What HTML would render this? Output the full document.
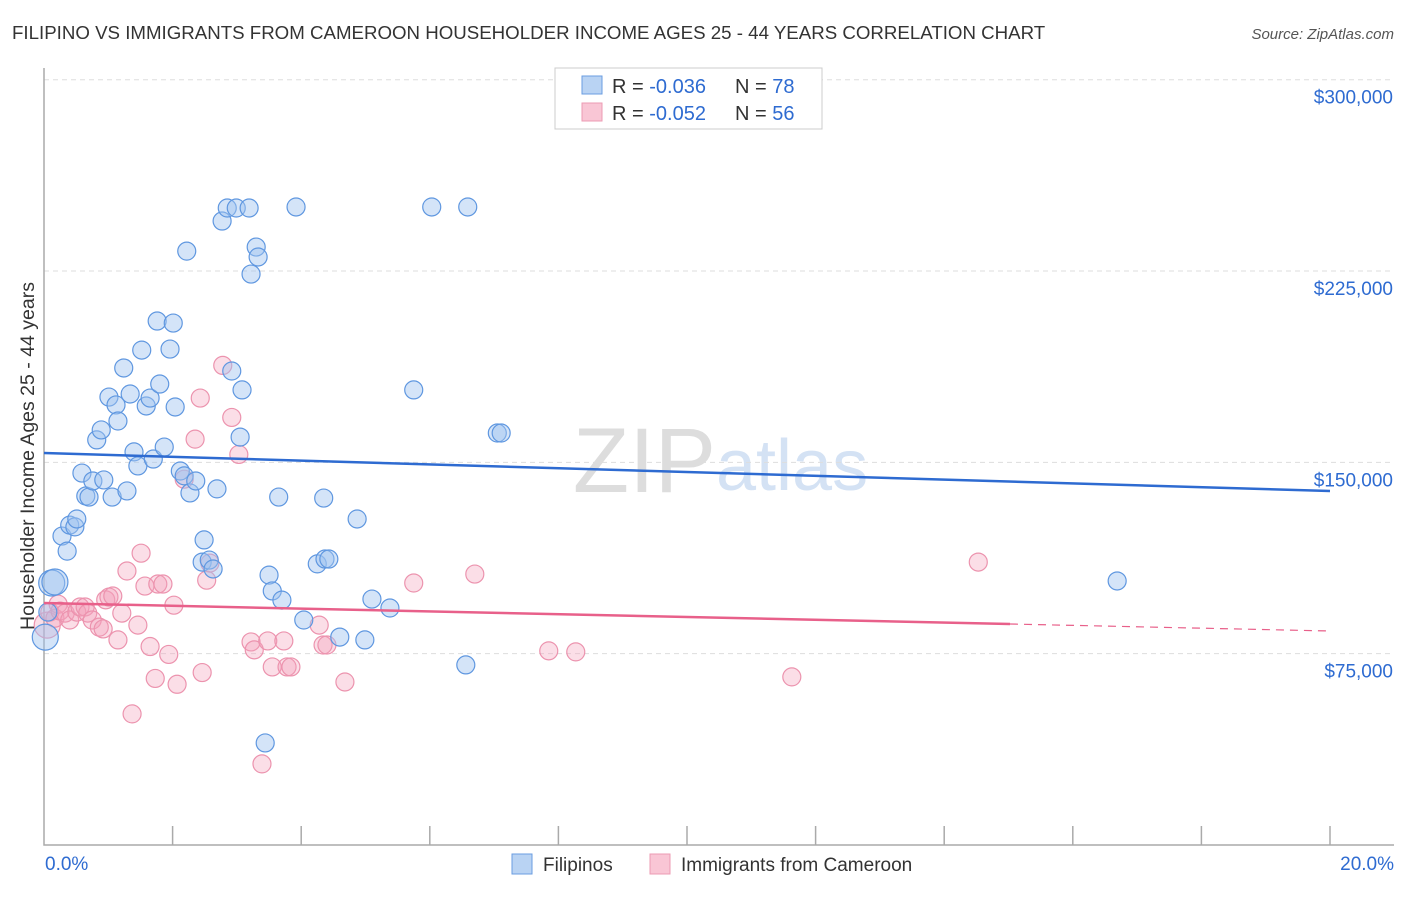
<!DOCTYPE html>
<html><head><meta charset="utf-8"><style>
body{margin:0;background:#fff;font-family:"Liberation Sans",sans-serif}
svg text{font-family:"Liberation Sans",sans-serif}
</style></head><body>
<svg id="c" width="1406" height="892" xmlns="http://www.w3.org/2000/svg">
<text x="12" y="39" font-size="18.7" fill="#333">FILIPINO VS IMMIGRANTS FROM CAMEROON HOUSEHOLDER INCOME AGES 25 - 44 YEARS CORRELATION CHART</text>
<text x="1394" y="39" font-size="15" fill="#555" font-style="italic" text-anchor="end">Source: ZipAtlas.com</text>
<text x="716" y="492" font-size="92" fill="#ddd" text-anchor="end" font-family="Liberation Serif">ZIP</text>
<text x="716" y="490" font-size="72" fill="#d4e2f4">atlas</text>
<g id="grid"></g><g id="axes"></g><g id="pts"></g><g id="trend"></g>
<text transform="translate(34,456) rotate(-90)" font-size="19.5" fill="#333" text-anchor="middle">Householder Income Ages 25 - 44 years</text>
<g>
<rect x="555" y="68" width="267" height="61" fill="#fff" stroke="#ccc"/>
<rect x="582" y="76" width="20" height="18" fill="#b9d3f3" stroke="#6a9de0"/>
<rect x="582" y="103" width="20" height="18" fill="#f9c6d5" stroke="#ec9bb3"/>
<text x="612" y="93" font-size="20" fill="#333">R = <tspan fill="#2e6bd1">-0.036</tspan></text>
<text x="735" y="93" font-size="20" fill="#333">N = <tspan fill="#2e6bd1">78</tspan></text>
<text x="612" y="120" font-size="20" fill="#333">R = <tspan fill="#2e6bd1">-0.052</tspan></text>
<text x="735" y="120" font-size="20" fill="#333">N = <tspan fill="#2e6bd1">56</tspan></text>
</g>
<g>
<rect x="512" y="854" width="20" height="20" fill="#b9d3f3" stroke="#6a9de0"/>
<text x="543" y="871" font-size="19" fill="#333">Filipinos</text>
<rect x="650" y="854" width="20" height="20" fill="#f9c6d5" stroke="#ec9bb3"/>
<text x="681" y="871" font-size="19" fill="#333">Immigrants from Cameroon</text>
</g>
</svg>
<script>
const yTicks=[75000,150000,225000,300000];
const yTickLabels=["$75,000","$150,000","$225,000","$300,000"];
const xTickLabels=["0.0%","20.0%"];
const blueX=[0.12,0.17,0.02,0.06,0.28,0.36,0.40,0.48,0.51,0.59,0.65,0.70,0.76,0.82,0.89,0.93,1.01,1.06,1.12,1.15,1.24,1.29,1.34,1.40,1.46,1.52,1.59,1.65,1.70,1.76,1.80,1.87,1.96,2.01,2.04,2.12,2.18,2.22,2.27,2.36,2.46,2.49,2.57,2.63,2.69,2.77,2.85,2.92,2.99,3.05,3.08,3.19,3.22,3.30,3.33,3.50,3.55,3.65,3.70,3.92,4.04,4.25,4.35,4.37,4.43,4.60,4.87,4.99,5.10,5.38,5.75,6.03,6.56,6.59,7.05,7.11,16.69,3.44];
const blueY=[102.7,103.1,81.5,91.3,121.1,115.2,125.4,124.7,127.8,145.8,136.8,136.4,142.7,158.8,162.7,143.1,175.6,136.4,172.5,166.2,187.0,138.8,176.8,154.1,148.6,194.0,172.1,175.2,151.3,205.4,180.7,156.0,194.4,204.6,171.7,146.6,144.7,232.8,138.0,142.7,110.9,119.6,111.7,108.2,139.6,244.6,249.7,185.8,249.7,159.9,178.4,249.7,223.8,234.4,230.5,105.8,99.6,136.4,96.0,250.1,88.2,110.2,136.0,112.1,112.1,81.5,127.8,80.4,96.4,92.9,178.4,250.1,70.6,250.1,161.5,161.5,103.5,40.0];
const pinkX=[0.05,0.09,0.17,0.22,0.25,0.33,0.40,0.51,0.56,0.64,0.68,0.75,0.86,0.92,0.96,1.01,1.07,1.15,1.21,1.29,1.37,1.46,1.51,1.57,1.65,1.73,1.77,1.85,1.94,2.02,2.07,2.18,2.35,2.43,2.46,2.53,2.58,2.78,2.92,3.03,3.22,3.27,3.39,3.48,3.55,3.73,3.78,3.84,4.28,4.34,4.40,4.68,5.75,6.70,7.85,8.27,11.63,14.53];
const pinkY=[86.2,91.3,88.9,94.4,91.7,90.9,88.2,91.3,93.3,93.3,90.9,88.2,85.4,84.7,96.1,97.2,97.6,80.4,90.9,107.4,51.4,86.2,114.4,101.5,77.8,65.3,102.3,102.3,74.7,94.0,63.0,143.4,159.1,175.2,67.6,103.8,110.5,188.0,167.6,153.1,79.6,76.5,31.8,80.0,69.8,80.0,69.8,69.8,86.2,78.4,78.4,63.9,102.7,106.2,76.1,75.7,65.9,110.9];
const sx=p=>44+p*64.3, sy=v=>845-v*2.551/1000;
const ns="http://www.w3.org/2000/svg";
function mk(t,a,parent){const e=document.createElementNS(ns,t);for(const k in a)e.setAttribute(k,a[k]);document.getElementById(parent).appendChild(e);return e;}
yTicks.forEach((v,i)=>{
 const g=mk('line',{x1:44,x2:1394,y1:sy(v),y2:sy(v),stroke:'#ddd','stroke-dasharray':'5,4'},'grid');
 
 
 const t=mk('text',{x:1393,y:sy(v)+24,'font-size':19,fill:'#2e6bd1','text-anchor':'end'},'grid');
 t.textContent=yTickLabels[i];
 
 
});
const ax=mk('path',{d:'M44,68V845H1394',fill:'none',stroke:'#aaa','stroke-width':1.5},'axes');


for(let i=1;i<=10;i++){const tk=mk('line',{x1:sx(i*2),x2:sx(i*2),y1:826,y2:845,stroke:'#aaa','stroke-width':1.5},'axes');
 
 }
[[0,'start',45],[20,'end',1394]].forEach((d,i)=>{const t=mk('text',{x:d[2],y:870,'font-size':19,fill:'#2e6bd1','text-anchor':d[1]},'axes');t.textContent=xTickLabels[i];
 
 });
pinkX.forEach((x,i)=>{const c=mk('circle',{cx:sx(x),cy:sy(pinkY[i]*1000),r:i==0?13:9,fill:'rgba(244,160,186,0.35)',stroke:'#ec93ae','stroke-width':1.2},'pts');
 
 });
blueX.forEach((x,i)=>{const c=mk('circle',{cx:sx(x),cy:sy(blueY[i]*1000),r:(i<3)?13:9,fill:'rgba(160,195,240,0.45)',stroke:'#5f97e0','stroke-width':1.2},'pts');
 
 });
let l=mk('line',{x1:44,y1:453,x2:1330,y2:491,stroke:'#2e6bd1','stroke-width':2.5},'trend');


l=mk('line',{x1:44,y1:603,x2:1010,y2:624,stroke:'#e8608a','stroke-width':2.5},'trend');


l=mk('line',{x1:1010,y1:624,x2:1330,y2:631,stroke:'#e8608a','stroke-width':1.2,'stroke-dasharray':'8,6'},'trend');


</script>
</body></html>
